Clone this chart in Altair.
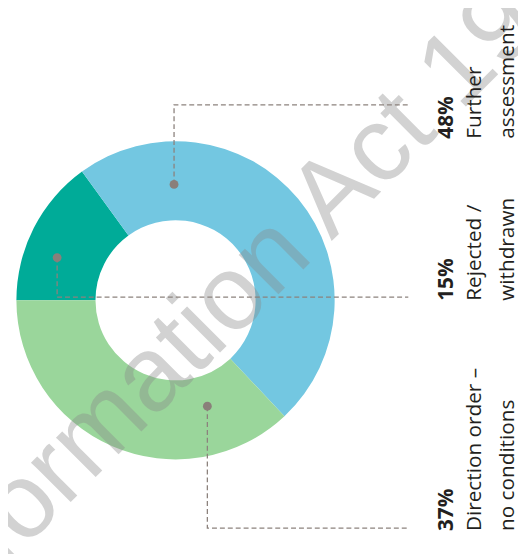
import math
import altair as alt
import pandas as pd

# ---- data ----
categories = ["Rejected / withdrawn", "Further assessment", "Direction order – no conditions"]
values = [15, 48, 37]
name_line1 = ["Rejected /", "Further", "Direction order –"]
name_line2 = ["withdrawn", "assessment", "no conditions"]
colors = ["#00AB98", "#73C7E1", "#9AD69B"]

# ---- layout (pixel positions of annotations) ----
W, H = 516, 546
CX, CY = 169.5, 292.5
R_OUT, R_IN = 161, 81
dot_pos = [(49.7, 249.3), (168.0, 175.3), (201.7, 399.7)]
elbow_y = [289.3, 94.7, 523.0]
line_end_x = 405
label_start_y = [293, 129, 526]
label_x = [450.5, 479.0, 511.5]

df = pd.DataFrame({"category": categories, "value": values, "idx": list(range(len(values)))})

donut = alt.Chart(df).mark_arc(outerRadius=R_OUT, innerRadius=R_IN).encode(
    theta=alt.Theta("value:Q", stack=True,
                    scale=alt.Scale(range=[1.5 * math.pi, 3.5 * math.pi])),
    order=alt.Order("idx:Q"),
    color=alt.Color("category:N", scale=alt.Scale(domain=categories, range=colors), legend=None),
    x=alt.value(CX),
    y=alt.value(CY),
)

wm = pd.DataFrame({"t": ["Information Act 1982"]})
watermark = alt.Chart(wm).mark_text(
    angle=315, align="left", baseline="alphabetic", font="Liberation Sans",
    fontSize=107, color="#8A8A8A", opacity=0.38,
).encode(text="t:N", x=alt.value(-68), y=alt.value(628))

lead_rows = []
for i, c in enumerate(categories):
    dx, dy = dot_pos[i]
    lead_rows += [
        {"category": c, "step": 0, "px": dx, "py": dy},
        {"category": c, "step": 1, "px": dx, "py": elbow_y[i]},
        {"category": c, "step": 2, "px": line_end_x, "py": elbow_y[i]},
    ]
lead = pd.DataFrame(lead_rows)

leaders = alt.Chart(lead).mark_line(strokeDash=[5, 3], strokeWidth=1.3, color="#8C827D").encode(
    x=alt.X("px:Q", scale=None), y=alt.Y("py:Q", scale=None),
    detail="category:N", order="step:Q",
)

dots = alt.Chart(pd.DataFrame({"category": categories,
                               "px": [p[0] for p in dot_pos],
                               "py": [p[1] for p in dot_pos]})).mark_circle(
    size=80, color="#8A7F7A", opacity=1).encode(
    x=alt.X("px:Q", scale=None), y=alt.Y("py:Q", scale=None))

pct = pd.DataFrame({"t": [f"{v}%" for v in values], "px": [label_x[0]] * 3, "py": label_start_y})
names = pd.DataFrame({
    "t": name_line1 + name_line2,
    "px": [label_x[1]] * 3 + [label_x[2]] * 3,
    "py": label_start_y + label_start_y,
})

text_kw = dict(angle=270, align="left", baseline="alphabetic", font="Open Sans",
               fontSize=21, color="#231F20")
pct_text = alt.Chart(pct).mark_text(fontWeight="bold", **text_kw).encode(
    x=alt.X("px:Q", scale=None), y=alt.Y("py:Q", scale=None), text="t:N")
name_text = alt.Chart(names).mark_text(**text_kw).encode(
    x=alt.X("px:Q", scale=None), y=alt.Y("py:Q", scale=None), text="t:N")

chart = alt.layer(donut, watermark, leaders, dots, pct_text, name_text).properties(
    width=W, height=H, padding=0, background="white",
    autosize=alt.AutoSizeParams(type="none"),
).configure_view(stroke=None)

chart.save("out.html", embed_options={"renderer": "svg", "actions": False})
